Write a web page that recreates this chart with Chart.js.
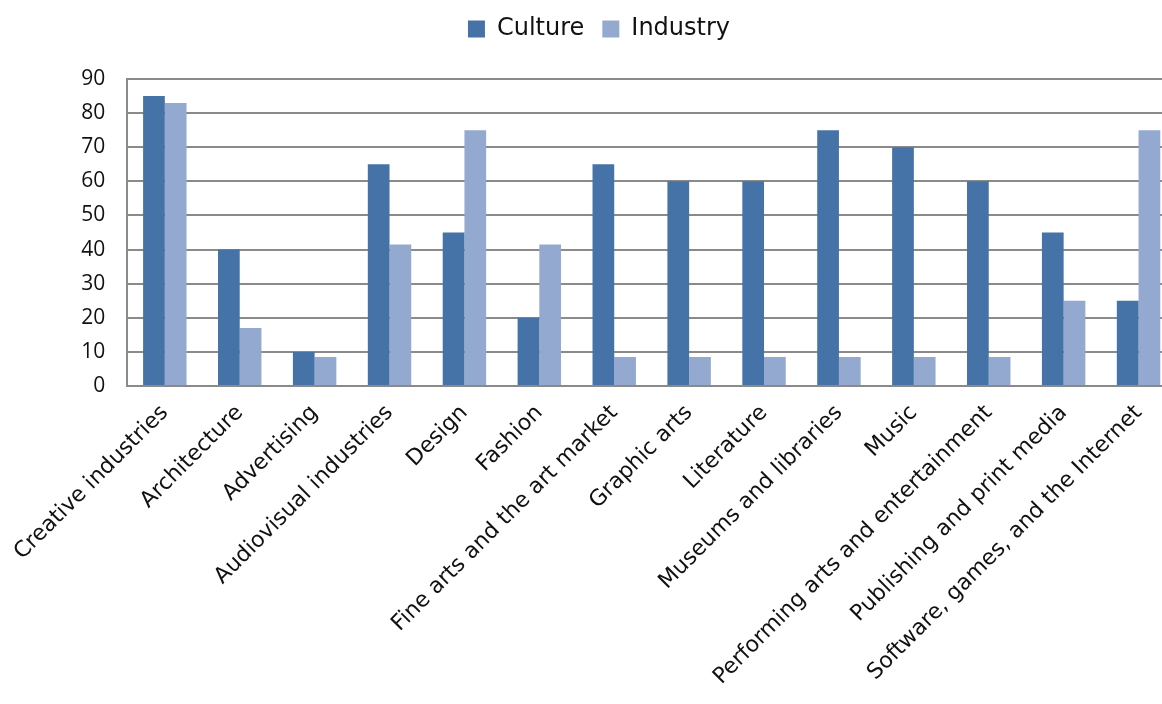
<!DOCTYPE html>
<html>
<head>
<meta charset="utf-8">
<script src="https://cdn.jsdelivr.net/npm/chart.js@4/dist/chart.umd.min.js"></script>
<style>
  html, body { margin: 0; padding: 0; background: #fff; overflow: hidden; }
  #wrap { width: 1176px; height: 704px; }
</style>
</head>
<body>
<div id="wrap"><canvas id="sectors"></canvas></div>
<script>
var sectorNames = [
    "Creative industries", "Architecture", "Advertising", "Audiovisual industries",
    "Design", "Fashion", "Fine arts and the art market", "Graphic arts",
    "Literature", "Museums and libraries", "Music",
    "Performing arts and entertainment", "Publishing and print media",
    "Software, games, and the Internet"
];
var cultureValues  = [85, 40, 10, 65, 45, 20, 65, 60, 60, 75, 70, 60, 45, 25];
var industryValues = [83, 17, 8.5, 41.5, 75, 41.5, 8.5, 8.5, 8.5, 8.5, 8.5, 8.5, 25, 75];
var yTicks = [0, 10, 20, 30, 40, 50, 60, 70, 80, 90];

var gothic = "'DejaVu Sans', 'Lato', sans-serif";

// leave some room between the legend and the plot
var legendGap = {
    id: "legendGap",
    beforeInit: function(chart) {
        var fit = chart.legend.fit;
        chart.legend.fit = function() {
            fit.bind(chart.legend)();
            this.height += 28;
        };
    }
};

window.addEventListener("DOMContentLoaded", function() {
    var ctx = document.getElementById("sectors");

    var data = {
        labels: sectorNames,
        datasets: [{
            label: "Culture",
            data: cultureValues,
            backgroundColor: "#4573a7"
        }, {
            label: "Industry",
            data: industryValues,
            backgroundColor: "#94a9cf"
        }]
    };

    new Chart(ctx, {
        type: "bar",
        data: data,
        plugins: [legendGap],
        options: {
            responsive: true,
            maintainAspectRatio: false,
            animation: false,
            layout: { padding: { top: -1, left: 22, right: 0, bottom: 0 } },
            datasets: {
                bar: { categoryPercentage: 0.58, barPercentage: 1.0 }
            },
            plugins: {
                legend: {
                    position: "top",
                    labels: {
                        font: { family: gothic, size: 24 },
                        color: "#111",
                        boxWidth: 17,
                        boxHeight: 17,
                        padding: 18
                    }
                },
                tooltip: { enabled: false }
            },
            scales: {
                x: {
                    grid: { display: false, drawTicks: false },
                    border: { color: "#8a8a8a", width: 2 },
                    ticks: {
                        minRotation: 45,
                        maxRotation: 45,
                        autoSkip: false,
                        padding: 14,
                        color: "#111",
                        font: { family: gothic, size: 22 }
                    }
                },
                y: {
                    min: 0,
                    max: 90,
                    afterBuildTicks: function(axis) {
                        axis.ticks = yTicks.map(function(v) { return { value: v }; });
                    },
                    afterFit: function(axis) {
                        axis.width += 26;
                    },
                    grid: { color: "#8a8a8a", lineWidth: 2, drawTicks: false },
                    border: { color: "#8a8a8a", width: 2 },
                    ticks: {
                        padding: 22,
                        color: "#111",
                        font: { family: "'Open Sans', sans-serif", size: 21 }
                    }
                }
            }
        }
    });
});
</script>
</body>
</html>
